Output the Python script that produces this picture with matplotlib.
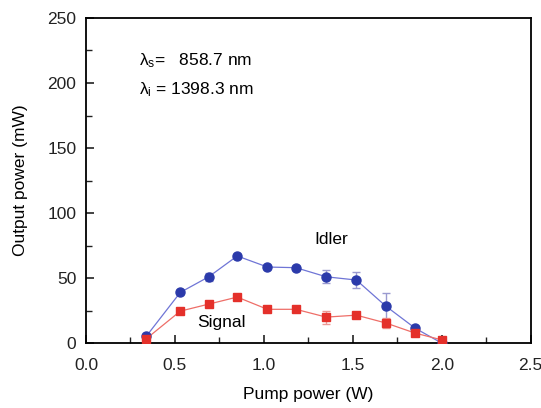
import matplotlib
matplotlib.use("Agg")
from matplotlib import pyplot as plt
from matplotlib.ticker import MultipleLocator

plt.rcParams['font.family'] = ['Liberation Sans', 'DejaVu Sans']
plt.rcParams['mathtext.fontset'] = 'custom'
plt.rcParams['mathtext.rm'] = 'Liberation Sans'
plt.rcParams['mathtext.it'] = 'Liberation Sans'

pump = [0.34, 0.53, 0.69, 0.85, 1.02, 1.18, 1.35, 1.52, 1.685, 1.85, 2.0]
idler = [5.5, 39, 51, 67, 58.5, 58, 51, 48.5, 28.5, 11.5, 0]
idler_err = [1, 1.5, 3, 1.5, 1.5, 1.5, 5, 6, 10, 2, 1]
signal = [3.5, 24.6, 30, 35.4, 26, 26, 20, 21.5, 15.5, 7.7, 2.5]
signal_err = [1, 1, 1.5, 1, 1, 1, 5, 1.5, 4, 1.5, 1]

fig = plt.figure(figsize=(5.41, 4.08), dpi=100)
ax = fig.add_axes([0.159, 0.159, 0.822, 0.797])

ax.plot(pump, idler, color='#6f75d6', lw=0.9, zorder=2)
ax.errorbar(pump, idler, yerr=idler_err, color='#2b3aaa', ecolor='#9a9ad0',
            elinewidth=1, capsize=3, marker='o', markersize=6.5, ls='none', zorder=3)
ax.plot(pump, signal, color='#ee6e68', lw=0.9, zorder=2)
ax.errorbar(pump, signal, yerr=signal_err, color='#e4302a', ecolor='#eb9a95',
            elinewidth=1, capsize=3, marker='s', markersize=5.5, ls='none', zorder=3)

ax.set_xlim(0, 2.5)
ax.set_ylim(0, 250)
ax.xaxis.set_major_locator(MultipleLocator(0.5))
ax.xaxis.set_minor_locator(MultipleLocator(0.25))
ax.yaxis.set_major_locator(MultipleLocator(50))
ax.yaxis.set_minor_locator(MultipleLocator(25))
ax.tick_params(which='both', direction='in', top=False, right=False,
               labelsize=12.5, colors='#222222')
ax.tick_params(axis='x', which='major', pad=11)
ax.tick_params(axis='y', which='major', pad=7)
ax.tick_params(which='major', length=6, width=1.2)
ax.tick_params(which='minor', length=4, width=1.0)
ax.xaxis.set_major_formatter(matplotlib.ticker.FormatStrFormatter('%.1f'))
for s in ax.spines.values():
    s.set_linewidth(1.3)

ax.set_xlabel('Pump power (W)', fontsize=12.5, labelpad=10)
ax.set_ylabel('Output power (mW)', fontsize=12.5, labelpad=14)

ax.text(1.38, 80, 'Idler', fontsize=12.5, ha='center', va='center')
ax.text(0.76, 16, 'Signal', fontsize=12.5, ha='center', va='center')
ax.text(0.30, 217, r'$\lambda_s$=   858.7 nm', fontsize=12.5, va='center')
ax.text(0.30, 195, r'$\lambda_i$ = 1398.3 nm', fontsize=12.5, va='center')

fig.savefig('out.png', dpi=100)
